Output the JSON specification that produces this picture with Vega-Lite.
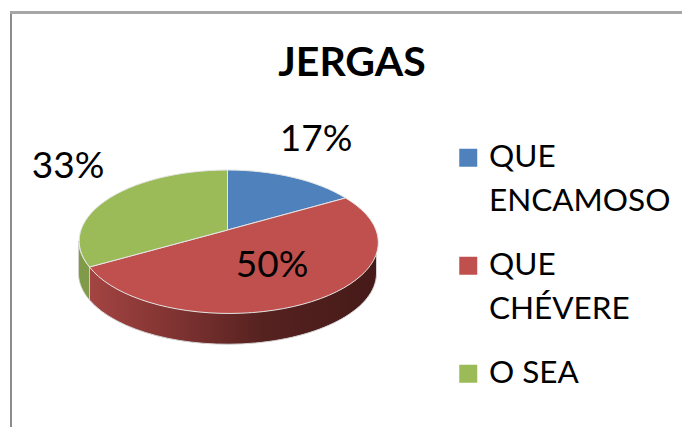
{
"$schema":"https://vega.github.io/schema/vega-lite/v6.json",
"width":682,"height":427,"padding":0,"autosize":"none",
"background":"white",
"config":{"view":{"stroke":null},"font":"Lato"},
"title":{"text":"JERGAS","font":"Lato","fontSize":41,"fontWeight":"bold","color":"#000000","anchor":"middle","align":"center","baseline":"alphabetic","offset":0,"dx":11,"dy":117},
"data":{"values":[
{"category":"QUE ENCAMOSO","value":0.17},
{"category":"QUE CHÉVERE","value":0.50},
{"category":"O SEA","value":0.33}
]},
"resolve":{"legend":{"color":"independent"}},
"layer":[
{"mark":{"type":"rule","color":"#8c8c8c","strokeWidth":2},"encoding":{"x":{"value":11},"y":{"value":11},"y2":{"value":427}}},
{"mark":{"type":"rule","color":"#a6a6a6","strokeWidth":2.5},"encoding":{"y":{"value":12.5},"x":{"value":10},"x2":{"value":682}}},
{"transform":[{"filter":"datum.category=='QUE CHÉVERE'"}],
 "mark":{"type":"point","filled":true,"opacity":1,"size":4,"shape":"M-138,26 A149,71 0 0 0 149,0 L149,33 A149,71 0 0 1 -138,59 Z","stroke":"#d4d4d4","strokeWidth":1,"fill":{"gradient":"linear","x1":0,"y1":0,"x2":1,"y2":0,"stops":[{"offset":0,"color":"#a34442"},{"offset":0.3,"color":"#7f3331"},{"offset":0.6,"color":"#562220"},{"offset":1,"color":"#451a18"}]}},
 "encoding":{"x":{"value":227.5},"y":{"value":241}}},
{"transform":[{"filter":"datum.category=='O SEA'"}],
 "mark":{"type":"point","filled":true,"opacity":1,"size":4,"shape":"M-149,0 A149,71 0 0 0 -138,26 L-138,59 A149,71 0 0 1 -149,33 Z","fill":"#7f9a48","stroke":"#d4d4d4","strokeWidth":0.8},
 "encoding":{"x":{"value":227.5},"y":{"value":241}}},
{"mark":{"type":"point","filled":true,"opacity":1,"size":4,"stroke":"#e6e6e6","strokeWidth":1},
 "encoding":{"x":{"value":227.5},"y":{"value":241},
 "shape":{"field":"category","type":"nominal","legend":null,"scale":{"domain":["QUE ENCAMOSO","QUE CHÉVERE","O SEA"],"range":["M0,-11 L0,-71 A149,71 0 0 1 118,-43 Z","M0,-11 L118,-43 A149,71 0 1 1 -138,26 Z","M0,-11 L-138,26 A149,71 0 0 1 0,-71 Z"]}},
 "color":{"field":"category","type":"nominal","legend":null,
 "scale":{"domain":["QUE ENCAMOSO","QUE CHÉVERE","O SEA"],"range":["#4f81bd","#c0504d","#9bbb59"]}}}},
{"mark":{"type":"point","filled":true,"opacity":1,"size":0},
 "encoding":{"x":{"value":227.5},"y":{"value":241},
 "color":{"field":"category","type":"nominal",
 "scale":{"domain":["QUE ENCAMOSO","QUE CHÉVERE","O SEA"],"range":["#4f81bd","#c0504d","#9bbb59"]},
 "legend":{"title":null,"orient":"none","legendX":452.5,"legendY":142,"symbolType":"square","symbolSize":324,"symbolStrokeWidth":0,"symbolOpacity":1,"labelFont":"Lato","labelFontSize":31.5,"labelColor":"#000000","labelLimit":0,"labelOffset":5,"rowPadding":31,
 "labelExpr":"datum.label=='O SEA'?'O SEA':split(datum.label,' ')",
 "encoding":{"labels":{"lineHeight":{"value":44}}}}}}},
{"transform":[{"filter":"datum.category=='QUE ENCAMOSO'"}],"mark":{"type":"text","font":"Lato","fontSize":37,"color":"#000000","baseline":"middle","align":"center"},
 "encoding":{"text":{"field":"value","type":"quantitative","format":".0%"},"x":{"value":316},"y":{"value":140}}},
{"transform":[{"filter":"datum.category=='QUE CHÉVERE'"}],"mark":{"type":"text","font":"Lato","fontSize":37,"color":"#000000","baseline":"middle","align":"center"},
 "encoding":{"text":{"field":"value","type":"quantitative","format":".0%"},"x":{"value":272},"y":{"value":266}}},
{"transform":[{"filter":"datum.category=='O SEA'"}],"mark":{"type":"text","font":"Lato","fontSize":37,"color":"#000000","baseline":"middle","align":"center"},
 "encoding":{"text":{"field":"value","type":"quantitative","format":".0%"},"x":{"value":68},"y":{"value":167}}}
]
}
